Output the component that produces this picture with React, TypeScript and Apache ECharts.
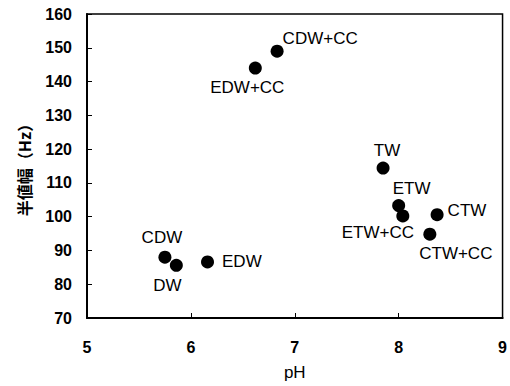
import React, { useEffect, useRef } from "react";
import * as echarts from "echarts";

const names = ["CDW", "DW", "EDW", "EDW+CC", "CDW+CC", "TW", "ETW", "ETW+CC", "CTW", "CTW+CC"];
const phValues = [5.75, 5.86, 6.16, 6.62, 6.83, 7.85, 8.0, 8.04, 8.37, 8.3];
const hzValues = [88.0, 85.6, 86.6, 144.0, 149.0, 114.4, 103.3, 100.2, 100.6, 94.8];
// label placement per point: [position, dx, dy]
const labelPlacements: [string, number, number][] = [
  ["top", -3, 1],
  ["bottom", -9, -1],
  ["right", 2, 0],
  ["bottom", -8, -2],
  ["right", -7, -13],
  ["top", 4, 3],
  ["top", 13, 4],
  ["bottom", -25, -4],
  ["right", -2, -4],
  ["bottom", 26, -2],
];

export default function App() {
  const ref = useRef<HTMLDivElement>(null);
  useEffect(() => {
    if (!ref.current) return;
    const chart = echarts.init(ref.current, null, { renderer: "svg" });
    const data = names.map((n, i) => ({
      name: n,
      value: [phValues[i], hzValues[i]],
      label: {
        show: true,
        formatter: n,
        position: labelPlacements[i][0] as any,
        offset: [labelPlacements[i][1], labelPlacements[i][2]],
        distance: 6,
      },
    }));
    chart.setOption({
      animation: false,
      backgroundColor: "#fff",
      grid: {
        left: 87,
        right: 7,
        top: 14,
        bottom: 67,
        show: true,
        borderColor: "#000",
        borderWidth: 1.5,
        containLabel: false,
      },
      xAxis: {
        type: "value",
        min: 5,
        max: 9,
        interval: 1,
        name: "pH",
        nameLocation: "middle",
        nameGap: 46,
        nameTextStyle: { fontFamily: "Liberation Sans, Arial", fontSize: 17, color: "#000" },
        axisLine: { lineStyle: { color: "#000", width: 2 } },
        axisTick: { inside: true, length: 5, lineStyle: { color: "#000", width: 1 } },
        axisLabel: {
          margin: 21,
          fontFamily: "Liberation Sans, Arial",
          fontWeight: "bold",
          fontSize: 16,
          color: "#000",
        },
        splitLine: { show: false },
      },
      yAxis: {
        type: "value",
        min: 70,
        max: 160,
        interval: 10,
        name: "半値幅（Hz）",
        nameLocation: "middle",
        nameGap: 55,
        nameTextStyle: {
          fontFamily: "Noto Sans CJK JP",
          fontWeight: "bold",
          fontSize: 16,
          color: "#000",
        },
        axisLine: { lineStyle: { color: "#000", width: 2 } },
        axisTick: { inside: true, length: 5, lineStyle: { color: "#000", width: 1 } },
        axisLabel: {
          margin: 15,
          fontFamily: "Liberation Sans, Arial",
          fontWeight: "bold",
          fontSize: 16,
          color: "#000",
        },
        splitLine: { show: false },
      },
      series: [
        {
          type: "scatter",
          symbol: "circle",
          symbolSize: 13,
          itemStyle: { color: "#000", opacity: 1 },
          label: {
            color: "#000",
            fontFamily: "Liberation Sans, Arial",
            fontSize: 17,
          },
          data,
        },
      ],
    });
    return () => chart.dispose();
  }, []);
  return <div ref={ref} style={{ width: 510, height: 386, position: "absolute", left: 0, top: 0 }} />;
}
